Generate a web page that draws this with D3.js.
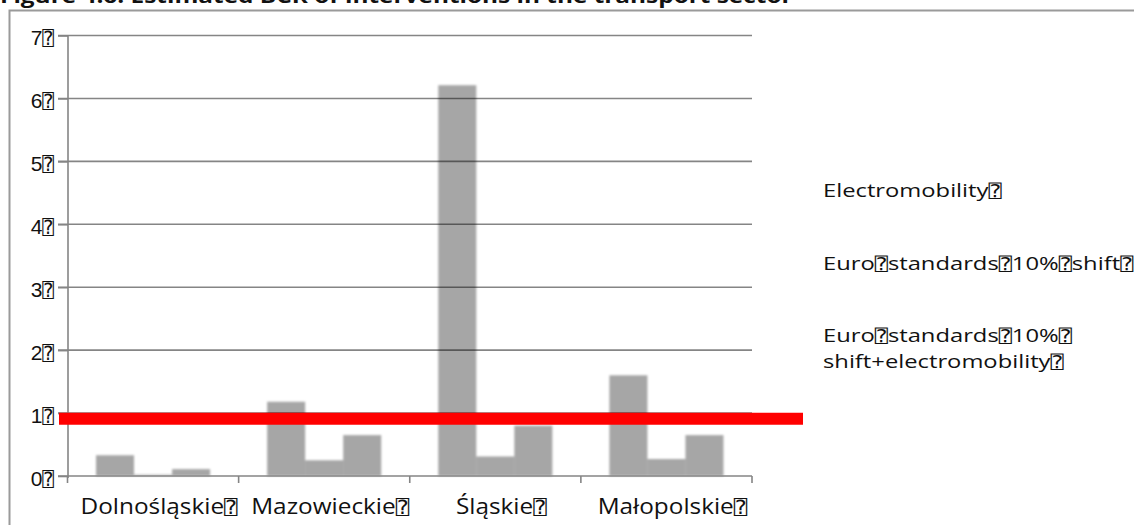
<!DOCTYPE html>
<html><head><meta charset="utf-8">
<script src="https://cdn.jsdelivr.net/npm/d3@7"></script>
<style>
html,body{margin:0;padding:0;background:#fff;overflow:hidden}
svg{display:block;font-family:"Open Sans",sans-serif}
.tofu{font-family:"DejaVu Sans Mono","DejaVu Sans";font-size:0.92em}
</style></head>
<body><svg id="c" width="1134" height="525"></svg>
<script>
const T = "\u2370";
const title = "Figure 4.6: Estimated BCR of interventions in the transport sector";
const categories = ["Dolnośląskie", "Mazowieckie", "Śląskie", "Małopolskie"];
const seriesNames = ["Electromobility", "Euro standards 10% shift", "Euro standards 10% shift+electromobility"];
const electromobility = [0.33, 1.18, 6.21, 1.60];
const euroShift = [0.02, 0.25, 0.31, 0.27];
const euroShiftElectro = [0.11, 0.65, 0.80, 0.65];
const yTicks = [0, 1, 2, 3, 4, 5, 6, 7];
const threshold = [0.91];

const series = [electromobility, euroShift, euroShiftElectro];
const svg = d3.select("#c");

function tofuText(sel, str) {
  str.split(" ").forEach(p => {
    sel.append("tspan").text(p);
    sel.append("tspan").attr("class", "tofu").text(T);
  });
}
function stretched(parent, x, y, sx) {
  return parent.append("text").attr("transform", `translate(${x},${y}) scale(${sx},1)`);
}

svg.append("rect").attr("x", 9.5).attr("y", 10.5).attr("width", 1200).attr("height", 600)
  .attr("fill", "none").attr("stroke", "#9a9a9a").attr("stroke-width", 2);

stretched(svg, 0, 3, 1.22).attr("font-size", 20).attr("font-weight", "bold")
  .attr("fill", "#111").text(title);

const x0 = d3.scaleBand().domain(categories).range([67.5, 752]).paddingInner(0).paddingOuter(0);
const y = d3.scaleLinear().domain([0, 7]).range([476, 35.5]);
const x1 = d3.scaleBand().domain([0, 1, 2]).range([0, x0.bandwidth()]).paddingOuter(0.75).paddingInner(0);

svg.append("g").selectAll("line").data(yTicks.filter(d => d > 0)).join("line")
  .attr("x1", 58).attr("x2", 752).attr("y1", d => y(d)).attr("y2", d => y(d))
  .attr("stroke", "#858585").attr("stroke-width", 1.6);

const defs = svg.append("defs");
defs.append("filter").attr("id", "soft").attr("x", "-20%").attr("y", "-20%").attr("width", "140%").attr("height", "140%")
  .append("feGaussianBlur").attr("stdDeviation", 1.1);
const gb = svg.append("g").attr("filter", "url(#soft)");
categories.forEach((c, i) => {
  series.forEach((s, j) => {
    gb.append("rect")
      .attr("x", x0(c) + x1(j)).attr("width", x1.bandwidth())
      .attr("y", y(s[i])).attr("height", y(0) - y(s[i]))
      .attr("fill", "#000").attr("fill-opacity", 0.35);
  });
});

const yAxis = d3.axisLeft(y).tickValues(yTicks).tickSize(10).tickFormat("");
const gy = svg.append("g").attr("transform", "translate(68,0)").call(yAxis);
gy.select(".domain").attr("stroke", "#858585").attr("stroke-width", 1.6).attr("d", `M0,${y(7)}V${y(0)+2}`);
gy.selectAll(".tick line").attr("stroke", "#858585").attr("stroke-width", 1.6);
gy.selectAll(".tick").each(function(d) {
  const t = d3.select(this).append("text").attr("x", -14).attr("dy", "0.44em").attr("text-anchor", "end")
    .attr("font-size", 21).attr("fill", "#111");
  tofuText(t, String(d));
});

const gx = svg.append("g");
gx.append("line").attr("x1", 58).attr("x2", 752).attr("y1", y(0)).attr("y2", y(0))
  .attr("stroke", "#858585").attr("stroke-width", 1.6);
const bounds = categories.map(c => x0(c)).concat([x0(categories[3]) + x0.bandwidth()]);
gx.selectAll("line.t").data(bounds).join("line").attr("class", "t")
  .attr("x1", d => d).attr("x2", d => d).attr("y1", y(0)).attr("y2", y(0) + 7)
  .attr("stroke", "#858585").attr("stroke-width", 1.6);
categories.forEach(c => {
  const t = stretched(gx, x0(c) + x0.bandwidth() / 2 + 6, 514, 1.16)
    .attr("text-anchor", "middle").attr("font-size", 21).attr("fill", "#111");
  tofuText(t, c);
});

svg.append("line").attr("x1", 59).attr("x2", 803).attr("y1", y(threshold[0])).attr("y2", y(threshold[0]))
  .attr("stroke", "#ff0000").attr("stroke-width", 12);

const leg = svg.append("g").attr("font-size", 19).attr("fill", "#111");
const lx = 823, sxL = 1.25;
tofuText(stretched(leg, lx, 197, sxL), seriesNames[0]);
tofuText(stretched(leg, lx, 270, sxL), seriesNames[1]);
tofuText(stretched(leg, lx, 342, sxL), "Euro standards 10%");
tofuText(stretched(leg, lx, 368, sxL), "shift+electromobility");
</script></body></html>
